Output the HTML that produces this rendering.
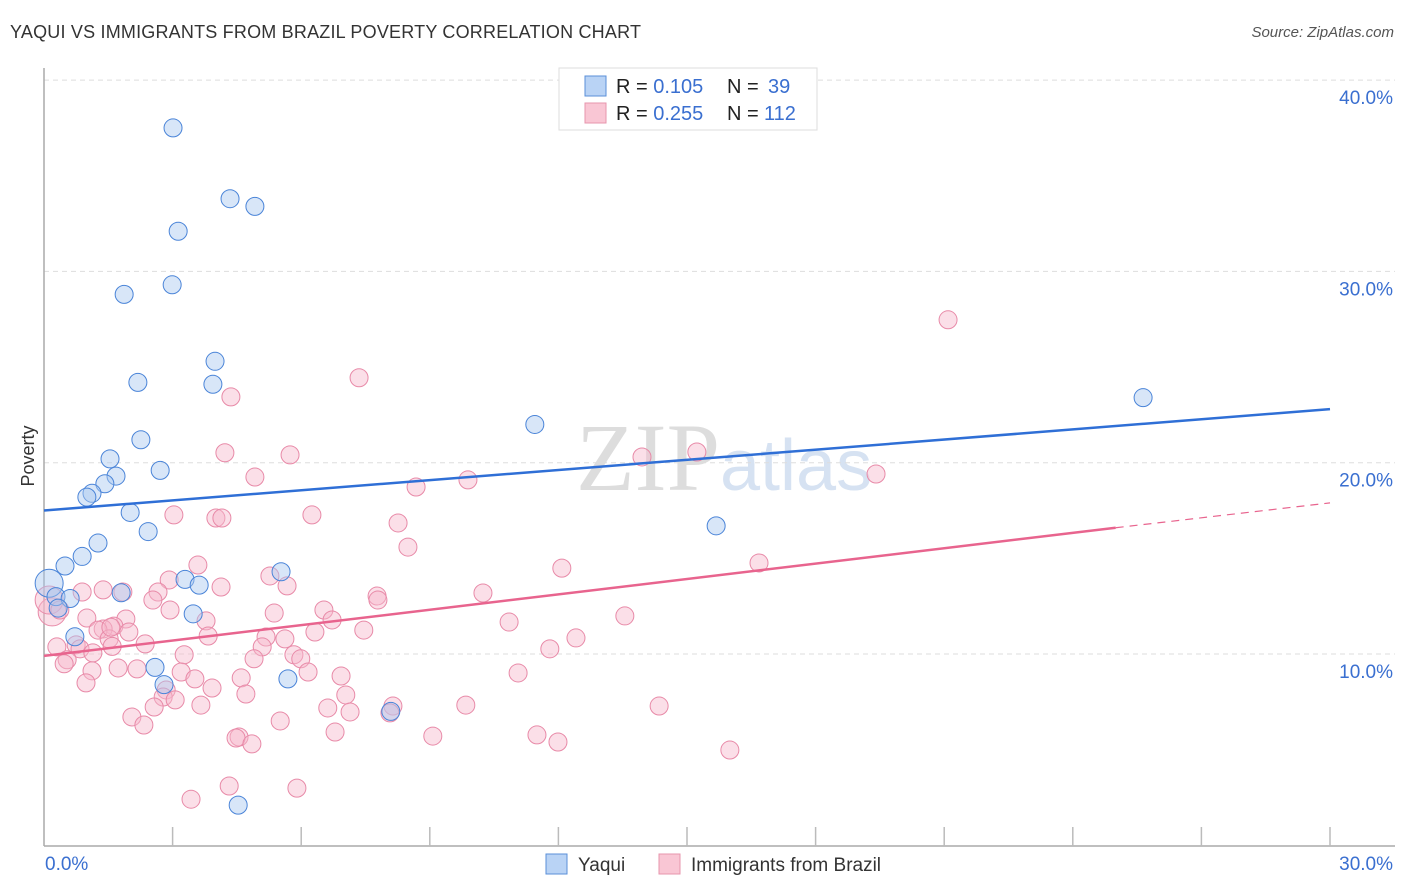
<!DOCTYPE html>
<html><head><meta charset="utf-8">
<style>
body{margin:0;background:#fff;font-family:"Liberation Sans",sans-serif;}
#wrap{position:relative;width:1406px;height:892px;overflow:hidden;}
.title{position:absolute;left:10px;top:22px;font-size:18px;color:#333;letter-spacing:0.2px}
.source{position:absolute;right:12px;top:24px;font-size:15px;color:#555;font-style:italic}
</style></head>
<body>
<div id="wrap">
<div class="title">YAQUI VS IMMIGRANTS FROM BRAZIL POVERTY CORRELATION CHART</div>
<div class="source">Source: ZipAtlas.com</div>
<svg id="svg" width="1406" height="892" style="position:absolute;left:0;top:0">
<text x="720" y="490" font-size="96" font-family="Liberation Serif,serif" fill="#ddd" text-anchor="end">ZIP</text>
<text x="720" y="490" font-size="72" fill="#d6e2f2">atlas</text>
</svg>
</div>
<script>
const yTicks=[10,20,30,40];
const xTicks=[0,3,6,9,12,15,18,21,24,27,30];
const yaquiX=[3.01,4.34,4.92,3.13,2.99,1.87,3.99,2.19,3.94,25.64,11.45,2.26,1.54,2.71,1.68,1.42,1.12,1.0,2.01,15.68,2.43,1.26,0.89,0.49,5.53,0.12,3.29,3.62,1.8,0.28,0.61,0.33,3.48,0.72,2.59,5.69,2.8,8.09,4.53];
const yaquiY=[37.5,33.8,33.4,32.1,29.3,28.8,25.3,24.2,24.1,23.4,22.0,21.2,20.2,19.6,19.3,18.9,18.4,18.2,17.4,16.7,16.4,15.8,15.1,14.6,14.3,13.7,13.9,13.6,13.2,13.0,12.9,12.4,12.1,10.9,9.3,8.7,8.4,7.0,2.1];
const brazilX=[21.09,7.35,4.36,4.22,5.74,15.23,13.95,19.41,9.89,4.92,8.68,3.03,4.01,4.15,6.25,8.26,8.49,3.59,12.08,16.68,5.27,2.92,5.67,4.13,1.84,1.38,0.89,2.66,7.77,2.54,10.24,7.79,6.53,5.37,6.72,1.91,1.00,13.55,3.78,10.85,1.63,1.38,1.98,7.46,6.32,1.26,5.18,12.41,3.83,5.62,1.52,0.75,0.30,2.36,5.09,11.80,0.84,1.14,3.27,5.83,5.99,0.54,0.47,4.90,1.73,2.17,1.12,6.16,11.06,3.20,6.93,4.60,0.98,3.52,2.85,3.92,7.04,4.71,2.78,3.06,8.14,9.84,2.57,3.66,6.62,7.14,14.35,2.05,5.51,2.33,8.07,6.79,4.55,4.48,11.50,9.07,4.85,11.99,16.00,4.32,5.90,3.43,0.19,0.12,0.37,1.56,2.94,1.59];
const brazilY=[27.47,24.44,23.44,20.52,20.41,20.56,20.30,19.41,19.10,19.25,18.73,17.27,17.11,17.11,17.27,16.85,15.59,14.65,14.49,14.76,14.08,13.87,13.56,13.50,13.24,13.35,13.24,13.24,13.03,12.82,13.19,12.82,12.30,12.14,11.78,11.83,11.88,11.99,11.73,11.67,11.46,11.31,11.15,11.25,11.15,11.25,10.89,10.84,10.94,10.79,10.79,10.48,10.37,10.53,10.37,10.27,10.27,10.06,9.96,9.96,9.75,9.70,9.49,9.75,9.27,9.22,9.12,9.06,9.01,9.06,8.85,8.75,8.49,8.70,8.12,8.22,7.86,7.91,7.75,7.60,7.28,7.33,7.23,7.33,7.18,6.97,7.28,6.71,6.50,6.29,6.92,5.92,5.66,5.61,5.77,5.71,5.30,5.40,4.98,3.10,2.99,2.41,12.20,12.82,12.30,11.40,12.30,10.40];
const yaquiLine=[[0,17.5],[30,22.8]];
const brazilSolid=[[0,9.9],[25,16.6]];
const brazilDash=[[25,16.6],[30,17.9]];

const X0=44,X1=1330,Y0=845.3,PXY=19.13;
function sx(v){return X0+(v/30)*(X1-X0);}
function sy(v){return Y0-v*PXY;}
const svg=document.getElementById('svg');const NS='http://www.w3.org/2000/svg';
function mk(t,a){const e=document.createElementNS(NS,t);for(const k in a)e.setAttribute(k,a[k]);svg.appendChild(e);return e;}
yTicks.forEach(t=>{
  const g=mk('line',{x1:44,x2:1395,y1:sy(t),y2:sy(t),stroke:'#ddd','stroke-dasharray':'5,4'});
  
  
  const l=mk('text',{x:1393,y:sy(t)+24,'text-anchor':'end','font-size':19,fill:'#3a6fd0'});
  l.textContent=t.toFixed(1)+'%';
  
  
});
const ax=mk('line',{x1:44,x2:44,y1:68,y2:846,stroke:'#aaa','stroke-width':1.5});


const bx=mk('line',{x1:44,x2:1395,y1:846,y2:846,stroke:'#aaa','stroke-width':1.5});


xTicks.forEach(t=>{if(t===0)return;
  const k=mk('line',{x1:sx(t),x2:sx(t),y1:827,y2:846,stroke:'#bbb','stroke-width':1.5});
  
  
});
[[0,'0.0%','start',45],[30,'30.0%','end',1393]].forEach(a=>{
  const l=mk('text',{x:a[3],y:870,'text-anchor':a[2],'font-size':19,fill:'#3a6fd0'});
  l.textContent=a[1];
  
  
});
const yt=mk('text',{x:34,y:456,'font-size':18,fill:'#333','text-anchor':'middle',transform:'rotate(-90 34 456)'});
yt.textContent='Poverty';


function dots(xs,ys,fill,stroke,name){xs.forEach((x,i)=>{
  const big=(name==='brazil-point'&&i>=xs.length-6&&i<xs.length-4)||(name==='yaqui-point'&&i===25);
  const c=mk('circle',{cx:sx(x),cy:sy(ys[i]),r:big?14:9,fill:fill,stroke:stroke,'stroke-width':1,'fill-opacity':0.45});
  
  
});}
dots(brazilX,brazilY,'#f7b8cb','#e88aa8','brazil-point');
dots(yaquiX,yaquiY,'#a9c8f0','#4a84d8','yaqui-point');
function ln(p,col,dash,name){const e=mk('line',{x1:sx(p[0][0]),y1:sy(p[0][1]),x2:sx(p[1][0]),y2:sy(p[1][1]),stroke:col,'stroke-width':dash?1.2:2.5});
  if(dash)e.setAttribute('stroke-dasharray','8,6');
  
  }
ln(yaquiLine,'#2f6fd6',false,'yaqui-trendline');
ln(brazilSolid,'#e8648e',false,'brazil-trendline');
ln(brazilDash,'#e8648e',true,'brazil-trendline-extension');
// legend box
const lb=mk('rect',{x:559,y:68,width:258,height:62,fill:'#fff',stroke:'#ddd'});


[[86,'#b9d3f5','#5a8fd8','0.105',' 39'],[113,'#f9c6d4','#e795ad','0.255','112']].forEach((r,i)=>{
  const s=mk('rect',{x:585,y:r[0]-10,width:21,height:20,fill:r[1],stroke:r[2]});
  
  
  const t=mk('text',{x:616,y:r[0]+7,'font-size':20,fill:'#222'});
  t.innerHTML='R = <tspan fill="#3a6fd0">'+r[3]+'</tspan><tspan x="727">N = </tspan><tspan fill="#3a6fd0" x="'+(i?764:768)+'">'+r[4].trim()+'</tspan>';
  
  
});
// bottom legend
[[546,'#b9d3f5','#5a8fd8','Yaqui',578],[659,'#f9c6d4','#e795ad','Immigrants from Brazil',691]].forEach(r=>{
  const s=mk('rect',{x:r[0],y:854,width:21,height:20,fill:r[1],stroke:r[2]});
  
  
  const t=mk('text',{x:r[4],y:871,'font-size':19,fill:'#333'});
  t.textContent=r[3];
  
  
});
</script>
</body></html>
